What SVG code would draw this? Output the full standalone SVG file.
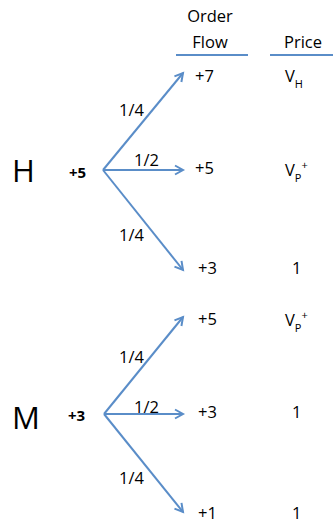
<svg xmlns="http://www.w3.org/2000/svg" width="333" height="525" viewBox="0 0 333 525">
<style>
text{font-family:"Open Sans","Liberation Sans",sans-serif;fill:#000;font-size:16.5px}
.big{font-size:31px}
.b{font-weight:bold;font-size:15px}
.s{font-size:11px}
.c{text-anchor:middle}
.ln{stroke:#5a8dc8;stroke-width:2;fill:none}
</style>
<defs>
<marker id="ah" markerUnits="userSpaceOnUse" markerWidth="12" markerHeight="12" refX="9" refY="5" orient="auto" viewBox="0 0 12 10">
<path d="M1,0.5 L9,5 L1,9.5" fill="none" stroke="#5a8dc8" stroke-width="2"/>
</marker>
</defs>
<rect width="333" height="525" fill="#fff"/>
<g id="header">
<text class="c" x="210" y="22">Order</text>
<text class="c" x="210" y="48">Flow</text>
<text x="284" y="48">Price</text>
<line class="ln" x1="176" y1="55" x2="248" y2="55"/>
<line class="ln" x1="270" y1="55" x2="333" y2="55"/>
</g>
<g id="connectors">
<line class="ln" x1="103" y1="170" x2="183" y2="73" marker-end="url(#ah)"/>
<line class="ln" x1="103" y1="170" x2="183" y2="170" marker-end="url(#ah)"/>
<line class="ln" x1="103" y1="170" x2="183" y2="270" marker-end="url(#ah)"/>
<line class="ln" x1="104" y1="414" x2="183" y2="317" marker-end="url(#ah)"/>
<line class="ln" x1="104" y1="414" x2="183" y2="414" marker-end="url(#ah)"/>
<line class="ln" x1="104" y1="414" x2="183" y2="512" marker-end="url(#ah)"/>
</g>
<g id="H">
<text class="big" x="12" y="182">H</text>
<text class="b" x="69" y="178">+5</text>
<text x="119" y="116">1/4</text>
<text x="134" y="166">1/2</text>
<text x="119" y="241">1/4</text>
</g>
<g id="H-out">
<text x="195" y="82">+7</text>
<text x="195" y="174">+5</text>
<text x="198" y="274">+3</text>
<text x="285" y="82">V<tspan class="s" dy="6">H</tspan></text>
<text x="285" y="176">V<tspan class="s" dy="6">P</tspan><tspan class="s" dy="-13">+</tspan></text>
<text x="292" y="274">1</text>
</g>
<g id="M">
<text class="big" x="12" y="429">M</text>
<text class="b" x="68" y="421">+3</text>
<text x="119" y="363">1/4</text>
<text x="134" y="413">1/2</text>
<text x="119" y="484">1/4</text>
</g>
<g id="M-out">
<text x="198" y="325">+5</text>
<text x="198" y="418">+3</text>
<text x="198" y="519">+1</text>
<text x="285" y="326">V<tspan class="s" dy="6">P</tspan><tspan class="s" dy="-13">+</tspan></text>
<text x="292" y="418">1</text>
<text x="292" y="519">1</text>
</g>
</svg>
